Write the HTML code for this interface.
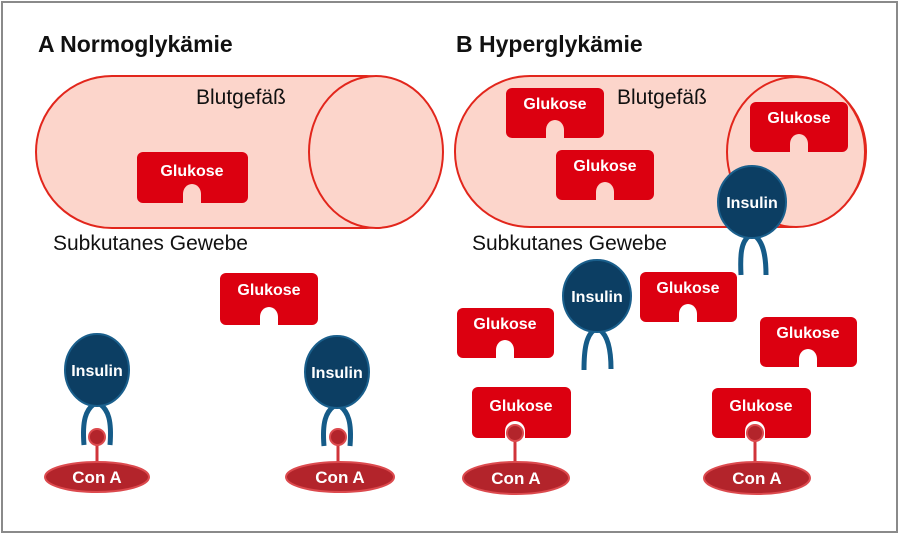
<!DOCTYPE html>
<html><head><meta charset="utf-8"><style>
html,body{margin:0;padding:0;background:#fff}
svg{display:block}
text{font-family:"Liberation Sans",sans-serif}
.t{font-size:23px;font-weight:bold;fill:#111}
.l{font-size:21px;fill:#111}
.g{font-size:16px;font-weight:bold;fill:#fff}
.i{font-size:16px;font-weight:bold;fill:#fff}
.c{font-size:17px;font-weight:bold;fill:#fff}
.leg{fill:none;stroke:#155b88;stroke-width:5;stroke-linecap:butt}
</style></head><body>
<svg width="900" height="535" viewBox="0 0 900 535" xmlns="http://www.w3.org/2000/svg">
<rect x="2" y="2" width="895" height="530" fill="#fff" stroke="#8a8a8a" stroke-width="2"/>
<text class="t" x="38" y="52">A Normoglykämie</text>
<text class="t" x="456" y="52">B Hyperglykämie</text>

<rect x="36" y="76" width="406" height="152" rx="76" fill="#fcd5cb" stroke="#e2261c" stroke-width="2"/>
<ellipse cx="376" cy="152" rx="67" ry="76" fill="#fcd5cb" stroke="#e2261c" stroke-width="2"/>
<text class="l" x="196" y="104">Blutgefäß</text>
<text class="l" x="53" y="250">Subkutanes Gewebe</text>

<rect x="455" y="76" width="411" height="151" rx="75" fill="#fcd5cb" stroke="#e2261c" stroke-width="2"/>
<ellipse cx="796" cy="152" rx="69" ry="75" fill="#fcd5cb" stroke="#e2261c" stroke-width="2"/>
<text class="l" x="617" y="104">Blutgefäß</text>
<text class="l" x="472" y="250">Subkutanes Gewebe</text>

<g fill="#dc0010">
<rect x="137" y="152" width="111" height="51" rx="6"/>
<rect x="220" y="273" width="98" height="52" rx="6"/>
<rect x="506" y="88" width="98" height="50" rx="6"/>
<rect x="556" y="150" width="98" height="50" rx="6"/>
<rect x="750" y="102" width="98" height="50" rx="6"/>
<rect x="640" y="272" width="97" height="50" rx="6"/>
<rect x="457" y="308" width="97" height="50" rx="6"/>
<rect x="760" y="317" width="97" height="50" rx="6"/>
<rect x="472" y="387" width="99" height="51" rx="6"/>
<rect x="712" y="388" width="99" height="50" rx="6"/>
</g>
<g fill="#fcd5cb">
<path d="M183 204V194A9 10 0 0 1 201 194V204Z"/>
<path d="M546 139V130A9 10 0 0 1 564 130V139Z"/>
<path d="M596 201V192A9 10 0 0 1 614 192V201Z"/>
<path d="M790 153V144A9 10 0 0 1 808 144V153Z"/>
</g>
<g fill="#fff">
<path d="M260 326V317A9 10 0 0 1 278 317V326Z"/>
<path d="M679 323V314A9 10 0 0 1 697 314V323Z"/>
<path d="M496 359V350A9 10 0 0 1 514 350V359Z"/>
<path d="M799 368V359A9 10 0 0 1 817 359V368Z"/>
<path d="M505 439V431A10 10 0 0 1 525 431V439Z"/>
<path d="M745 439V431A10 10 0 0 1 765 431V439Z"/>
</g>
<text class="g" x="192" y="176" text-anchor="middle">Glukose</text>
<text class="g" x="269" y="295" text-anchor="middle">Glukose</text>
<text class="g" x="555" y="109" text-anchor="middle">Glukose</text>
<text class="g" x="605" y="171" text-anchor="middle">Glukose</text>
<text class="g" x="799" y="123" text-anchor="middle">Glukose</text>
<text class="g" x="688" y="293" text-anchor="middle">Glukose</text>
<text class="g" x="505" y="329" text-anchor="middle">Glukose</text>
<text class="g" x="808" y="338" text-anchor="middle">Glukose</text>
<text class="g" x="521" y="411" text-anchor="middle">Glukose</text>
<text class="g" x="761" y="411" text-anchor="middle">Glukose</text>

<g>
<line x1="97" y1="440" x2="97" y2="466" stroke="#d0343a" stroke-width="3"/>
<line x1="338" y1="440" x2="338" y2="466" stroke="#d0343a" stroke-width="3"/>
<line x1="515" y1="436" x2="515" y2="466" stroke="#d0343a" stroke-width="3"/>
<line x1="755" y1="436" x2="755" y2="466" stroke="#d0343a" stroke-width="3"/>
<g fill="#b3242b" stroke="#dc4a4e" stroke-width="2">
<ellipse cx="97" cy="477" rx="52" ry="15"/>
<ellipse cx="340" cy="477" rx="54" ry="15"/>
<ellipse cx="516" cy="478" rx="53" ry="16"/>
<ellipse cx="757" cy="478" rx="53" ry="16"/>
<circle cx="97" cy="437" r="8"/>
<circle cx="338" cy="437" r="8"/>
<circle cx="515" cy="433" r="8"/>
<circle cx="755" cy="433" r="8"/>
</g>
<text class="c" x="97" y="483" text-anchor="middle">Con A</text>
<text class="c" x="340" y="483" text-anchor="middle">Con A</text>
<text class="c" x="516" y="484" text-anchor="middle">Con A</text>
<text class="c" x="757" y="484" text-anchor="middle">Con A</text>
</g>

<g>
<path class="leg" d="M94 404C86 410 82 420 84 445M100 404C108 410 112 420 110 445"/>
<path class="leg" d="M334 406C326 412 322 422 324 446M340 406C348 412 352 422 350 446"/>
<path class="leg" d="M749 236C741 242 740 255 741 275M755 236C763 242 766 255 766 275"/>
<path class="leg" d="M594 330C586 336 584 350 584 370M600 330C608 336 611 350 611 369"/>
<g fill="#0c3e63" stroke="#1a5f8c" stroke-width="2">
<ellipse cx="97" cy="370" rx="32" ry="36"/>
<ellipse cx="337" cy="372" rx="32" ry="36"/>
<ellipse cx="752" cy="202" rx="34" ry="36"/>
<ellipse cx="597" cy="296" rx="34" ry="36"/>
</g>
<text class="i" x="97" y="376" text-anchor="middle">Insulin</text>
<text class="i" x="337" y="378" text-anchor="middle">Insulin</text>
<text class="i" x="752" y="208" text-anchor="middle">Insulin</text>
<text class="i" x="597" y="302" text-anchor="middle">Insulin</text>
</g>
</svg>
</body></html>
